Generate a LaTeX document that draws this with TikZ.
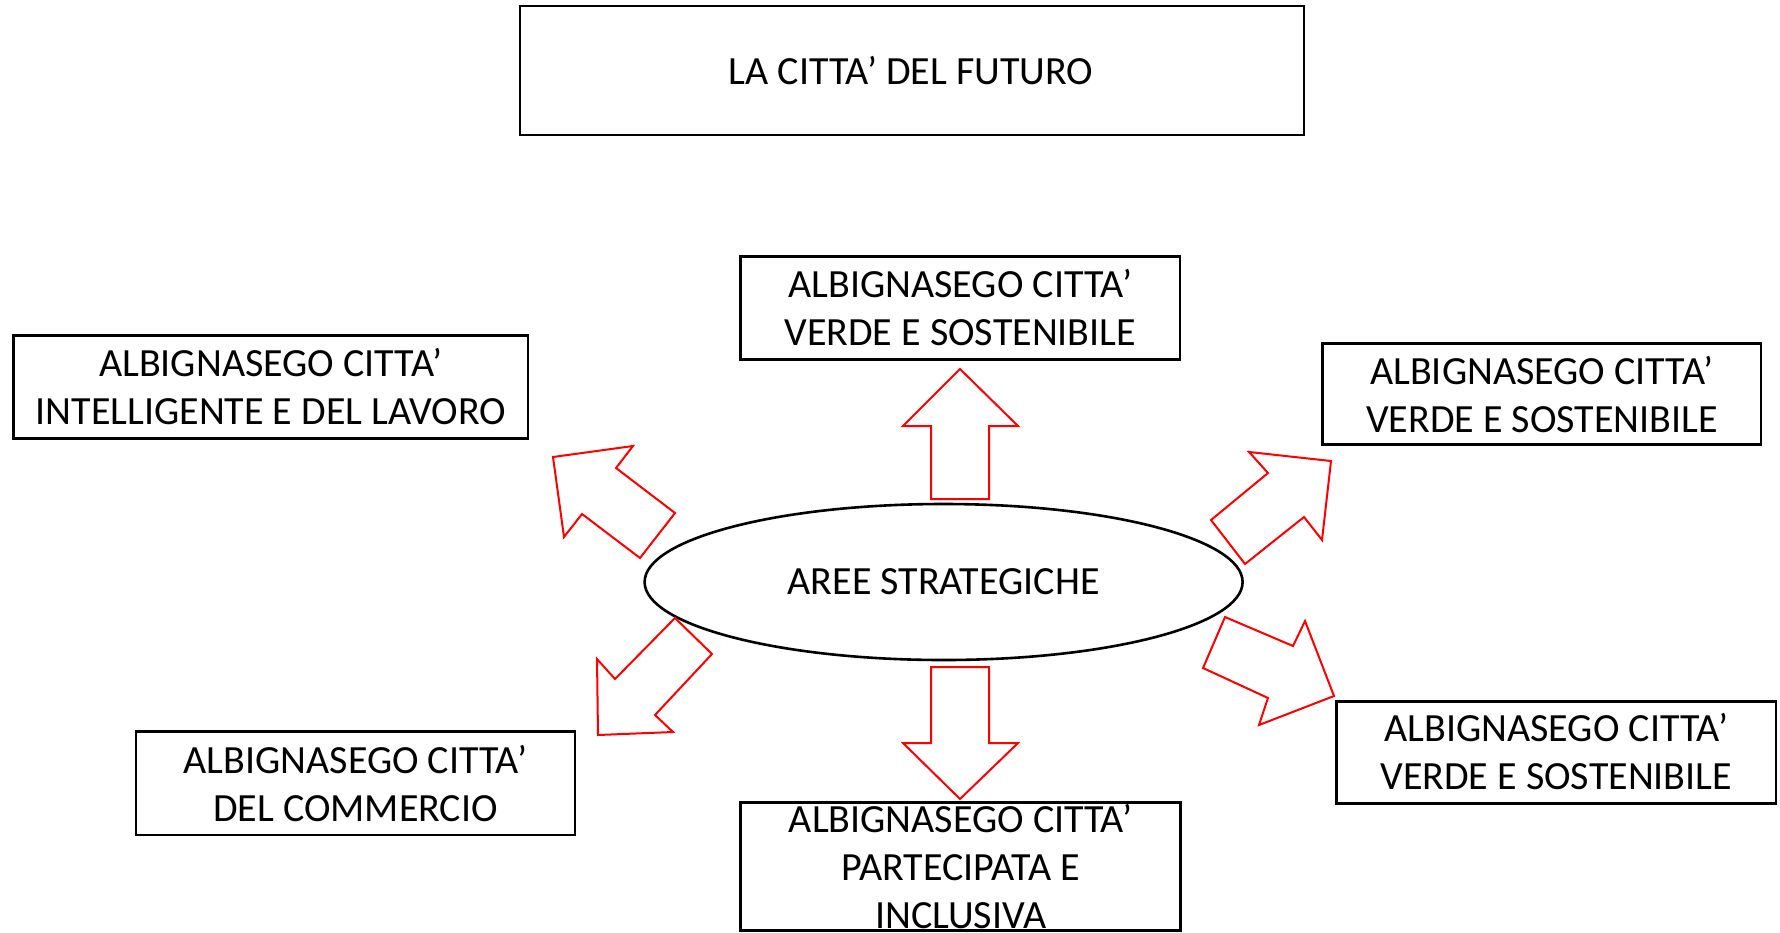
\documentclass[tikz,border=0pt]{standalone}
\usepackage{fontspec}
\setmainfont{Carlito}
\usetikzlibrary{shapes.geometric}
\begin{document}
\begin{tikzpicture}[x=0.5pt,y=-0.5pt,
  cbox/.style={draw=black,line width=1.3pt,rectangle,inner sep=0pt},
  ctext/.style={font=\fontsize{20}{24}\selectfont,align=center,inner sep=0pt},
  blockarrow/.style={draw=red,line width=1pt,line join=miter}]
\useasboundingbox (0,0) rectangle (1780,932);
\fill[white] (0,0) rectangle (1780,932);

% boxes
\node[cbox,minimum width=392pt,minimum height=64.5pt] (bTop) at (912,70.5) {};
\node[ctext] (tTop) at (911,70.5) {LA CITTA’ DEL FUTURO};

\node[cbox,minimum width=219.7pt,minimum height=51.3pt] (bVT) at (960.3,308) {};
\node[ctext] (tVT) at (960.3,308) {ALBIGNASEGO CITTA’\\VERDE E SOSTENIBILE};

\node[cbox,minimum width=257.2pt,minimum height=51.3pt] (bIL) at (270.8,387) {};
\node[ctext] (tIL) at (271,386.5) {ALBIGNASEGO CITTA’\\INTELLIGENTE E DEL LAVORO};

\node[cbox,minimum width=219.2pt,minimum height=50.5pt] (bVR) at (1541.8,393.8) {};
\node[ctext] (tVR) at (1542,394.5) {ALBIGNASEGO CITTA’\\VERDE E SOSTENIBILE};

\node[cbox,minimum width=219.7pt,minimum height=50.8pt] (bVB) at (1556.3,752.5) {};
\node[ctext] (tVB) at (1556.3,752) {ALBIGNASEGO CITTA’\\VERDE E SOSTENIBILE};

\node[cbox,minimum width=219.5pt,minimum height=51.7pt] (bCO) at (355.5,783.3) {};
\node[ctext] (tCO) at (355.5,783.6) {ALBIGNASEGO CITTA’\\DEL COMMERCIO};

\node[cbox,minimum width=220pt,minimum height=64pt] (bPA) at (960.7,866.7) {};
\node[ctext] (tPA) at (960.7,867) {ALBIGNASEGO CITTA’\\PARTECIPATA E\\INCLUSIVA};

% central ellipse
\node[ellipse,draw=black,line width=1.3pt,minimum width=299pt,minimum height=78pt,
      inner sep=0pt,font=\fontsize{20}{24}\selectfont] (ell) at (943.6,582) {AREE STRATEGICHE};

% block arrows
\draw[blockarrow] (960,369) -- (1018,426) -- (989,426) -- (989,499) -- (931,499) -- (931,426) -- (903,426) -- cycle;
\draw[blockarrow] (960,799) -- (903,743) -- (931,743) -- (931,667) -- (989,667) -- (989,743) -- (1018,743) -- cycle;
\draw[blockarrow] (553,457) -- (633,446) -- (616,468) -- (675,513) -- (640,558) -- (582,514) -- (564,537) -- cycle;
\draw[blockarrow] (1331,461) -- (1322,540) -- (1304,517) -- (1245,564) -- (1211,520) -- (1268,473) -- (1249,452) -- cycle;
\draw[blockarrow] (1334,696) -- (1259,725) -- (1268,698) -- (1203,668) -- (1225,617) -- (1293,646) -- (1305,621) -- cycle;
\draw[blockarrow] (598,735) -- (673,732) -- (655,715) -- (712,654) -- (675,618) -- (615,679) -- (597,659) -- cycle;
\end{tikzpicture}
\end{document}
